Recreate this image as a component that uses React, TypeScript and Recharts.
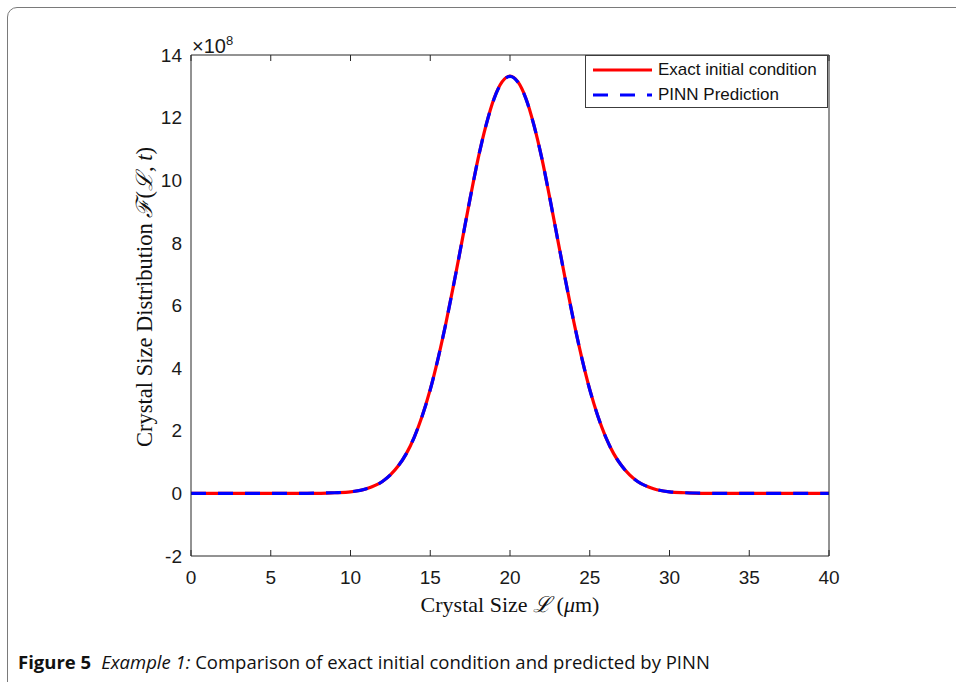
import { LineChart, Line, XAxis, YAxis, Legend } from 'recharts';

// crystal size L (µm)
const sizes = [
  0, 1, 2, 3, 4, 5, 6, 7, 8, 9, 10, 11, 12,
  12.5, 13, 13.5, 14, 14.5, 15, 15.5, 16, 16.5, 17, 17.5, 18, 18.5, 19, 19.5, 20,
  20.5, 21, 21.5, 22, 22.5, 23, 23.5, 24, 24.5, 25, 25.5, 26, 26.5, 27, 27.5, 28,
  29, 30, 31, 32, 33, 34, 35, 36, 37, 38, 39, 40,
];

// F(L, 0) in units of 1e8
const exactValues = [
  0, 0, 0, 0, 0, 0, 0, 0, 0, 0.02, 0.05, 0.15, 0.38,
  0.59, 0.88, 1.27, 1.8, 2.48, 3.32, 4.33, 5.48, 6.75, 8.08, 9.42, 10.69, 11.76, 12.61, 13.14, 13.33,
  13.14, 12.61, 11.76, 10.69, 9.42, 8.08, 6.75, 5.48, 4.33, 3.32, 2.48, 1.8, 1.27, 0.88, 0.59, 0.38,
  0.15, 0.05, 0.02, 0, 0, 0, 0, 0, 0, 0, 0, 0,
];

const pinnValues = [
  0, 0, 0, 0, 0, 0, 0, 0, 0.01, 0.02, 0.05, 0.15, 0.38,
  0.59, 0.88, 1.27, 1.8, 2.48, 3.31, 4.33, 5.48, 6.75, 8.08, 9.42, 10.69, 11.76, 12.6, 13.13, 13.32,
  13.13, 12.6, 11.76, 10.69, 9.42, 8.08, 6.75, 5.48, 4.33, 3.31, 2.48, 1.8, 1.27, 0.88, 0.59, 0.38,
  0.15, 0.05, 0.02, 0.01, 0, 0, 0, 0, 0, 0, 0, 0,
];

const xTicks = [0, 5, 10, 15, 20, 25, 30, 35, 40];
const yTicks = [-2, 0, 2, 4, 6, 8, 10, 12, 14];

const AXIS = '#262626';
const TICK_FONT = { fontSize: 19, fill: '#1a1a1a', fontFamily: '"Liberation Sans", Arial, sans-serif' };
const NO_LABEL = { fontSize: 1, fill: 'none' };
const blank = () => '';
const SERIF = '"Liberation Serif", "DejaVu Serif", serif';
const SCRIPT = { fontFamily: '"DejaVu Serif", serif', fontStyle: 'italic' as const };

const data = sizes.map((L, i) => ({ L, exact: exactValues[i], pinn: pinnValues[i] }));

const LegendBox = () => (
  <div
    style={{
      width: 243,
      height: 53,
      boxSizing: 'border-box',
      border: '1px solid #3c3c3c',
      background: '#fff',
      paddingTop: 1,
      fontFamily: '"Liberation Sans", Arial, sans-serif',
      fontSize: 17,
      color: '#111',
    }}
  >
    <div style={{ display: 'flex', alignItems: 'center', height: 25 }}>
      <svg width={72} height={8} style={{ flexShrink: 0 }}>
        <line x1={7} x2={66} y1={4} y2={4} stroke="#ff0000" strokeWidth={3.2} />
      </svg>
      <span>Exact initial condition</span>
    </div>
    <div style={{ display: 'flex', alignItems: 'center', height: 25 }}>
      <svg width={72} height={8} style={{ flexShrink: 0 }}>
        <line x1={7} x2={66} y1={4} y2={4} stroke="#0000ff" strokeWidth={3.2} strokeDasharray="15 12" />
      </svg>
      <span>PINN Prediction</span>
    </div>
  </div>
);

const App = () => {
  return (
    <div style={{ position: 'absolute', left: 0, top: 0, width: 956, height: 682, overflow: 'hidden', background: '#fff' }}>
      <div
        style={{
          position: 'absolute',
          left: 7,
          top: 7,
          width: 1000,
          height: 720,
          border: '1.5px solid #7a7a7a',
          borderRadius: 10,
        }}
      />
      <div style={{ position: 'absolute', left: 0, top: 0 }}>
        <LineChart width={956} height={682} data={data} margin={{ top: 55, right: 127, bottom: 32, left: 95 }}>
          <XAxis
            xAxisId="main"
            dataKey="L"
            type="number"
            domain={[0, 40]}
            ticks={xTicks}
            height={94}
            tickLine={false}
            tickSize={0}
            tickMargin={15}
            axisLine={{ stroke: AXIS }}
            tick={TICK_FONT}
          />
          {/* inward ticks on all four sides, MATLAB box style */}
          <XAxis
            xAxisId="bottomTicks"
            dataKey="L"
            type="number"
            domain={[0, 40]}
            ticks={xTicks}
            mirror
            height={1}
            tick={NO_LABEL}
            tickFormatter={blank}
            tickSize={6}
            tickLine={{ stroke: AXIS }}
            axisLine={false}
          />
          <XAxis
            xAxisId="top"
            orientation="top"
            dataKey="L"
            type="number"
            domain={[0, 40]}
            ticks={xTicks}
            mirror
            height={1}
            tick={NO_LABEL}
            tickFormatter={blank}
            tickSize={6}
            tickLine={{ stroke: AXIS }}
            axisLine={{ stroke: AXIS }}
          />
          <YAxis
            yAxisId="main"
            type="number"
            domain={[-2, 14]}
            ticks={yTicks}
            width={96}
            tickLine={false}
            tickSize={0}
            tickMargin={9}
            axisLine={{ stroke: AXIS }}
            tick={TICK_FONT}
          />
          <YAxis
            yAxisId="leftTicks"
            type="number"
            domain={[-2, 14]}
            ticks={yTicks}
            mirror
            width={1}
            tick={NO_LABEL}
            tickFormatter={blank}
            tickSize={6}
            tickLine={{ stroke: AXIS }}
            axisLine={false}
          />
          <YAxis
            yAxisId="right"
            orientation="right"
            type="number"
            domain={[-2, 14]}
            ticks={yTicks}
            mirror
            width={1}
            tick={NO_LABEL}
            tickFormatter={blank}
            tickSize={6}
            tickLine={{ stroke: AXIS }}
            axisLine={{ stroke: AXIS }}
          />
          <Line
            xAxisId="main"
            yAxisId="main"
            type="monotone"
            dataKey="exact"
            stroke="#ff0000"
            strokeWidth={3.2}
            dot={false}
            isAnimationActive={false}
            name="Exact initial condition"
          />
          <Line
            xAxisId="main"
            yAxisId="main"
            type="monotone"
            dataKey="pinn"
            stroke="#0000ff"
            strokeWidth={3.2}
            strokeDasharray="15 12"
            dot={false}
            isAnimationActive={false}
            name="PINN Prediction"
          />
          <Legend
            layout="vertical"
            align="center"
            verticalAlign="middle"
            content={() => <LegendBox />}
            wrapperStyle={{ left: 585, top: 55, width: 243, height: 53 }}
          />
        </LineChart>
      </div>

      {/* exponent label */}
      <div
        style={{
          position: 'absolute',
          left: 192,
          top: 31,
          fontFamily: '"Liberation Sans", Arial, sans-serif',
          fontSize: 20,
          color: '#1a1a1a',
          lineHeight: '20px',
        }}
      >
        ×10<sup style={{ fontSize: 13, verticalAlign: 8 }}>8</sup>
      </div>

      {/* axis titles */}
      <div
        style={{
          position: 'absolute',
          left: 510,
          top: 603,
          transform: 'translate(-50%, -50%)',
          whiteSpace: 'nowrap',
          fontFamily: SERIF,
          fontSize: 22,
          color: '#111',
        }}
      >
        Crystal Size <span style={SCRIPT}>ℒ</span> (<i>μ</i>m)
      </div>
      <div
        style={{
          position: 'absolute',
          left: 143,
          top: 297,
          transform: 'translate(-50%, -50%) rotate(-90deg)',
          whiteSpace: 'nowrap',
          fontFamily: SERIF,
          fontSize: 22.5,
          color: '#111',
        }}
      >
        Crystal Size Distribution <span style={SCRIPT}>ℱ</span>(<span style={SCRIPT}>ℒ</span>, <i>t</i>)
      </div>

      {/* caption */}
      <div
        style={{
          position: 'absolute',
          left: 18,
          top: 649,
          whiteSpace: 'nowrap',
          fontFamily: '"Open Sans", "Noto Sans", sans-serif',
          fontSize: 18.5,
          color: '#111',
        }}
      >
        <b>Figure 5</b>
        <span style={{ marginLeft: 10 }}>
          <i>Example 1:</i> Comparison of exact initial condition and predicted by PINN
        </span>
      </div>
    </div>
  );
};

export default App;
